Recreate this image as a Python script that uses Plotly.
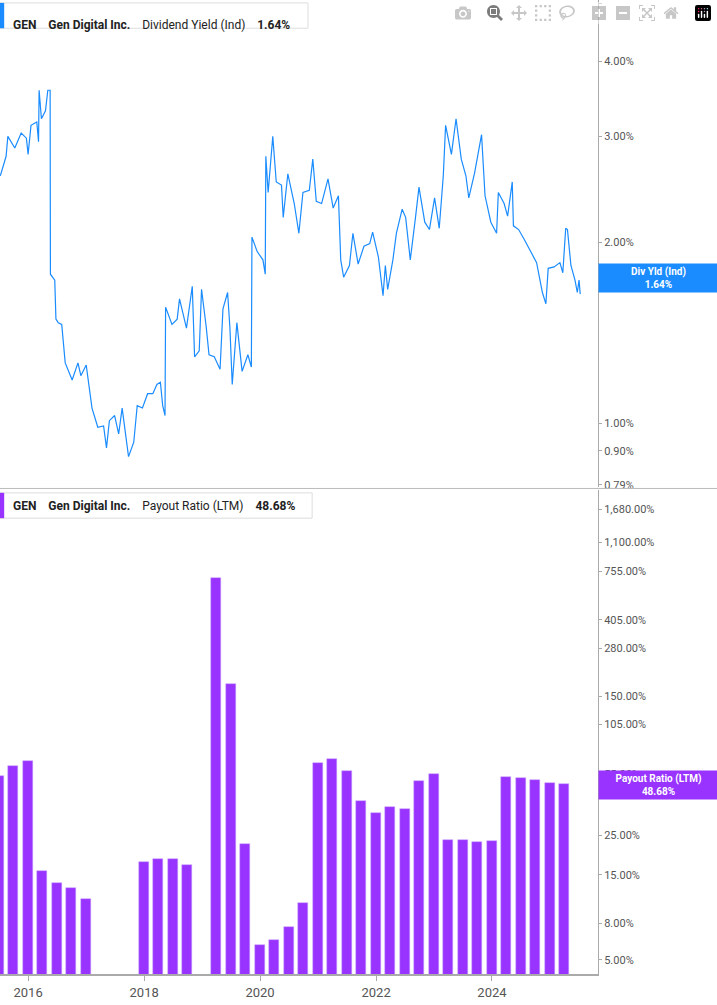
import pandas as pd
import plotly.graph_objects as go

# dividend yield (%), dates as decimal years
yield_years = [2015.52, 2015.62, 2015.65, 2015.77, 2015.88, 2015.97, 2016.00, 2016.05, 2016.15, 2016.18,
    2016.19, 2016.23, 2016.30, 2016.34, 2016.38, 2016.385, 2016.46, 2016.48, 2016.52, 2016.58,
    2016.64, 2016.76, 2016.86, 2016.91, 2017.00, 2017.10, 2017.20, 2017.30, 2017.35, 2017.40,
    2017.49, 2017.56, 2017.62, 2017.70, 2017.73, 2017.82, 2017.88, 2017.97, 2018.06, 2018.15,
    2018.22, 2018.28, 2018.32, 2018.36, 2018.37, 2018.48, 2018.57, 2018.61, 2018.73, 2018.83,
    2018.87, 2018.95, 2018.99, 2019.07, 2019.12, 2019.21, 2019.31, 2019.36, 2019.44, 2019.48,
    2019.52, 2019.60, 2019.69, 2019.79, 2019.85, 2019.86, 2019.95, 2020.05, 2020.09, 2020.10,
    2020.14, 2020.22, 2020.28, 2020.37, 2020.40, 2020.48, 2020.59, 2020.67, 2020.74, 2020.85,
    2020.91, 2020.97, 2021.06, 2021.17, 2021.26, 2021.35, 2021.39, 2021.44, 2021.54, 2021.60,
    2021.69, 2021.79, 2021.89, 2021.94, 2022.04, 2022.12, 2022.16, 2022.20, 2022.29, 2022.35,
    2022.45, 2022.51, 2022.59, 2022.68, 2022.74, 2022.84, 2022.92, 2023.01, 2023.09, 2023.16,
    2023.20, 2023.30, 2023.38, 2023.47, 2023.55, 2023.60, 2023.70, 2023.82, 2023.88, 2023.98,
    2024.08, 2024.11, 2024.21, 2024.27, 2024.35, 2024.37, 2024.46, 2024.56, 2024.68, 2024.77,
    2024.87, 2024.93, 2024.97, 2025.07, 2025.17, 2025.22, 2025.27, 2025.30, 2025.36, 2025.43,
    2025.47, 2025.50, 2025.52]
yield_vals = [2.58, 2.78, 3.00, 2.87, 3.04, 2.98, 2.80, 3.13, 3.17, 2.94,
    3.58, 3.21, 3.31, 3.58, 3.58, 1.77, 1.73, 1.49, 1.47, 1.46,
    1.26, 1.18, 1.26, 1.20, 1.25, 1.06, 0.985, 0.99, 0.91, 1.01,
    1.03, 0.96, 1.06, 0.93, 0.88, 0.93, 1.07, 1.06, 1.12, 1.12,
    1.16, 1.17, 1.07, 1.03, 1.56, 1.46, 1.49, 1.61, 1.44, 1.69,
    1.29, 1.32, 1.67, 1.45, 1.30, 1.29, 1.23, 1.55, 1.65, 1.44,
    1.16, 1.47, 1.22, 1.30, 1.24, 2.04, 1.93, 1.87, 1.77, 2.78,
    2.42, 3.00, 2.52, 2.49, 2.20, 2.60, 2.32, 2.07, 2.42, 2.44,
    2.75, 2.34, 2.32, 2.55, 2.28, 2.39, 1.87, 1.75, 1.83, 2.07,
    1.84, 1.97, 1.99, 2.08, 1.89, 1.63, 1.83, 1.67, 1.87, 2.07,
    2.27, 2.20, 1.87, 2.20, 2.47, 2.16, 2.10, 2.37, 2.11, 2.58,
    3.13, 2.80, 3.21, 2.75, 2.58, 2.37, 2.61, 3.02, 2.39, 2.16,
    2.07, 2.42, 2.32, 2.21, 2.52, 2.13, 2.10, 2.02, 1.92, 1.85,
    1.65, 1.58, 1.81, 1.82, 1.85, 1.78, 2.11, 2.10, 1.83, 1.73,
    1.65, 1.73, 1.64]

# payout ratio (LTM, %) by quarter end
payout_dates = ["2015-06-30", "2015-09-30", "2015-12-31", "2016-03-31", "2016-06-30", "2016-09-30",
    "2016-12-31", "2017-12-31", "2018-03-31", "2018-06-30", "2018-09-30", "2019-03-31",
    "2019-06-30", "2019-09-30", "2019-12-31", "2020-03-31", "2020-06-30", "2020-09-30",
    "2020-12-31", "2021-03-31", "2021-06-30", "2021-09-30", "2021-12-31", "2022-03-31",
    "2022-06-30", "2022-09-30", "2022-12-31", "2023-03-31", "2023-06-30", "2023-09-30",
    "2023-12-31", "2024-03-31", "2024-06-30", "2024-09-30", "2024-12-31", "2025-03-31"]
payout_vals = [54.0, 61.2, 65.3, 15.8, 13.5, 12.7, 11.0, 17.7, 18.5, 18.5, 17.1, 696, 176, 22.4,
    6.07, 6.47, 7.69, 10.5, 63.3, 67.0, 57.1, 38.8, 33.2, 36.1, 35.1, 50.7, 55.2, 23.4, 23.4,
    22.9, 23.2, 53.1, 52.6, 50.9, 49.0, 48.68]

top_ticks = [0.79, 0.9, 1, 2, 3, 4, 5]
bottom_ticks = [5, 8, 15, 25, 45, 55, 105, 150, 280, 405, 755, 1100, 1680]
year_ticks = ["2016-01-01", "2018-01-01", "2020-01-01", "2022-01-01", "2024-01-01"]

def to_date(y):
    yr = int(y)
    start = pd.Timestamp(year=yr, month=1, day=1)
    return start + pd.Timedelta(days=(y - yr) * 365.25)

dates = [to_date(y) for y in yield_years]
BLUE = "#1a8cff"
PURPLE = "#9933ff"
GRAY = "#555555"
FONT = "Roboto"

fig = go.Figure()
fig.add_trace(go.Scatter(x=dates, y=yield_vals, mode="lines", line=dict(color=BLUE, width=1.2),
                         xaxis="x", yaxis="y"))
fig.add_trace(go.Bar(x=pd.to_datetime(payout_dates), y=payout_vals, marker_color=PURPLE,
                     marker_line=dict(color="#c9a0ff", width=0.5), width=63 * 86400000,
                     xaxis="x2", yaxis="y2"))

xr = ["2015-07-08", "2025-10-30"]
fig.update_layout(
    width=717, height=1005, margin=dict(l=0, r=119, t=0, b=31),
    paper_bgcolor="white", plot_bgcolor="white", showlegend=False,
    font=dict(family=FONT, color=GRAY, size=11),
    xaxis=dict(domain=[0, 1], range=xr, anchor="y", showticklabels=False, showgrid=False,
               zeroline=False),
    yaxis=dict(domain=[0.5, 1], type="log", range=[-0.106, 0.704], side="right",
               tickvals=top_ticks, ticktext=[f"{v:.2f}%" for v in top_ticks],
               showgrid=False, zeroline=False, showline=True, linecolor="#aaaaaa",
               ticks="outside", ticklen=3, tickcolor="#aaaaaa"),
    xaxis2=dict(domain=[0, 1], range=xr, anchor="y2", showgrid=False, zeroline=False,
                tickvals=pd.to_datetime(year_ticks), ticktext=[y[:4] for y in year_ticks],
                ticks="outside", ticklen=5, tickcolor="#aaaaaa", showline=True,
                linecolor="#aaaaaa", linewidth=2,
                tickfont=dict(size=13, color=GRAY, family=FONT)),
    yaxis2=dict(domain=[0, 0.497], type="log", range=[0.62, 3.335], side="right", anchor="x2",
                tickvals=bottom_ticks, ticktext=[f"{v:,.2f}%" for v in bottom_ticks],
                showgrid=False, zeroline=False, showline=True, linecolor="#aaaaaa",
                ticks="outside", ticklen=3, tickcolor="#aaaaaa"),
    bargap=0,
)

shapes = [
    dict(type="line", xref="paper", yref="paper", x0=0, x1=1.2, y0=0.4985, y1=0.4985,
         line=dict(color="#bbbbbb", width=1)),
    dict(type="rect", xref="paper", yref="paper", x0=0.0, x1=0.515, y0=0.971, y1=0.997,
         line=dict(color="#dddddd", width=1), fillcolor="white"),
    dict(type="rect", xref="paper", yref="paper", x0=0.0, x1=0.007, y0=0.971, y1=0.997,
         line=dict(width=0), fillcolor=BLUE),
    dict(type="rect", xref="paper", yref="paper", x0=0.0, x1=0.522, y0=0.468, y1=0.494,
         line=dict(color="#dddddd", width=1), fillcolor="white"),
    dict(type="rect", xref="paper", yref="paper", x0=0.0, x1=0.007, y0=0.468, y1=0.494,
         line=dict(width=0), fillcolor=PURPLE),
]
fig.update_layout(shapes=shapes)

fig.add_annotation(xref="paper", yref="paper", x=0.018, y=0.984, xanchor="left", showarrow=False,
                   text="<b>GEN</b>    <b>Gen Digital Inc.</b>    Dividend Yield (Ind)    <b>1.64%</b>",
                   font=dict(size=12, color="#222222", family=FONT))
fig.add_annotation(xref="paper", yref="paper", x=0.018, y=0.481, xanchor="left", showarrow=False,
                   text="<b>GEN</b>    <b>Gen Digital Inc.</b>    Payout Ratio (LTM)    <b>48.68%</b>",
                   font=dict(size=12, color="#222222", family=FONT))
fig.add_annotation(xref="paper", yref="y", x=1.0, y=0.2417, xanchor="left",
                   showarrow=False, text="<b>Div Yld (Ind)<br>1.64%</b>", width=117, height=26,
                   bgcolor=BLUE, font=dict(color="white", size=10, family=FONT))
fig.add_annotation(xref="paper", yref="y2", x=1.0, y=1.681, xanchor="left",
                   showarrow=False, text="<b>Payout Ratio (LTM)<br>48.68%</b>", width=117, height=26,
                   bgcolor=PURPLE, font=dict(color="white", size=10, family=FONT))

fig.write_html("out.html", post_script="document.body.style.margin='0';document.body.style.overflow='hidden';")
